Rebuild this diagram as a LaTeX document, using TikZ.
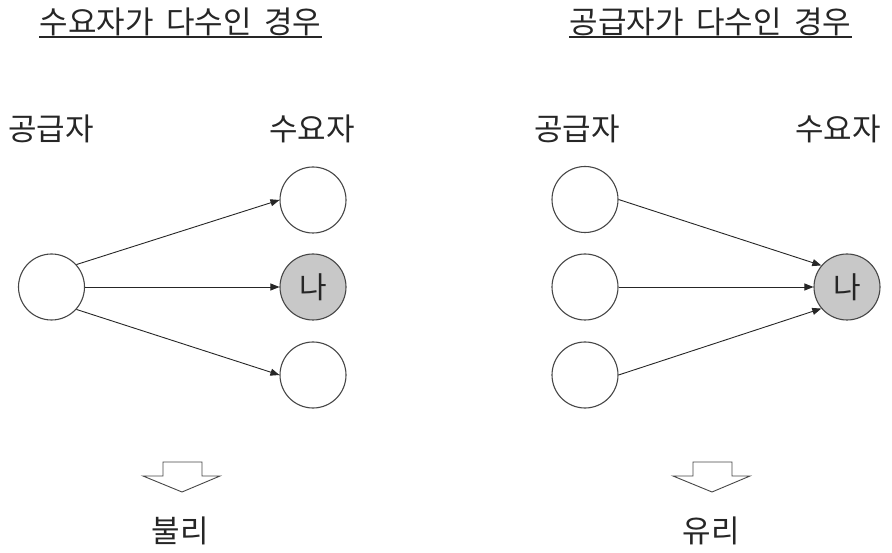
\documentclass[tikz,border=0pt]{standalone}
\usepackage{fontspec}
\newfontfamily\kr[WordSpace=1.8]{Noto Sans CJK KR}
\usetikzlibrary{arrows.meta}
\definecolor{nodegray}{RGB}{200,200,200}
\definecolor{edgegray}{RGB}{70,70,70}
\tikzset{
  txt/.style={font=\kr\fontsize{31pt}{33pt}\selectfont, inner sep=0pt, anchor=base, text=black!85},
  circ/.style={circle, draw=edgegray, line width=1.1pt, minimum size=66pt, inner sep=0pt, fill=white, font=\kr\fontsize{30pt}{32pt}\selectfont, text=black!85},
  sel/.style={circ, fill=nodegray},
  arr/.style={draw=black!85, line width=0.9pt, -{Triangle[length=9pt,width=7pt]}},
  uline/.style={draw=black!85, line width=1.3pt},
  blk/.style={draw=edgegray, line width=0.9pt, fill=white}
}
\begin{document}
\begin{tikzpicture}[x=1pt,y=-1pt]
\useasboundingbox (0,0) rectangle (892,553);
% titles
\node[txt] (t1) at (180.5,34) {수요자가 다수인 경우};
\node[txt] (t2) at (710.5,34) {공급자가 다수인 경우};
\draw[uline] ([yshift=-3pt]t1.base west) -- ([yshift=-3pt]t1.base east);
\draw[uline] ([yshift=-3pt]t2.base west) -- ([yshift=-3pt]t2.base east);
% column labels
\node[txt] (l1) at (51,141) {공급자};
\node[txt] (l2) at (312,141) {수요자};
\node[txt] (l3) at (577,141) {공급자};
\node[txt] (l4) at (838,141) {수요자};
% left diagram
\node[circ] (ls) at (51.5,287) {};
\node[circ] (ld1) at (313,200) {};
\node[sel] (ld2) at (313,287) {나};
\node[circ] (ld3) at (313,375) {};
\draw[arr] (ls.42) -- (ld1.west);
\draw[arr] (ls.east) -- (ld2.west);
\draw[arr] (ls.-42) -- (ld3.west);
% right diagram
\node[circ] (rs1) at (585,199.5) {};
\node[circ] (rs2) at (585,287) {};
\node[circ] (rs3) at (585,375) {};
\node[sel] (rd) at (847,287) {나};
\draw[arr] (rs1.east) -- (rd.140);
\draw[arr] (rs2.east) -- (rd.west);
\draw[arr] (rs3.east) -- (rd.220);
% block arrows
\draw[blk] (163,462) -- (202,462) -- (202,476) -- (220,476) -- (182,492) -- (143,476) -- (163,476) -- cycle;
\draw[blk] (693,462) -- (732,462) -- (732,476) -- (750,476) -- (712,492) -- (673,476) -- (693,476) -- cycle;
% results
\node[txt] (r1) at (180,542) {불리};
\node[txt] (r2) at (711,542) {유리};
\end{tikzpicture}
\end{document}
